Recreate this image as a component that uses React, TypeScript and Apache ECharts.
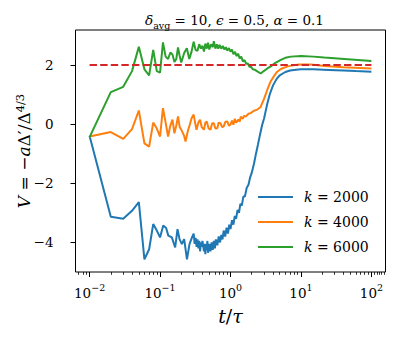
import React, { useEffect, useRef } from "react";
import * as echarts from "echarts";

// [t/τ, V] pairs
const k2000: [number, number][] = [
  [0.01, -0.4], [0.02, -3.13], [0.03, -3.2], [0.04, -2.93], [0.05, -2.64], [0.06, -4.57], [0.07, -4.23],
  [0.08, -3.38], [0.09, -3.6], [0.1, -3.83], [0.111, -3.43], [0.122, -3.51], [0.131, -3.77], [0.147, -3.83],
  [0.164, -4.17], [0.177, -3.55], [0.189, -3.89], [0.204, -4.06], [0.22, -3.89], [0.241, -4.57], [0.262, -4.06],
  [0.284, -3.83], [0.3, -3.7], [0.31, -4.05], [0.32, -3.85], [0.33, -4.15], [0.34, -3.9], [0.35, -4.2],
  [0.36, -3.95], [0.37, -4.3], [0.38, -4.0], [0.39, -4.15], [0.4, -3.95], [0.42, -4.3], [0.43, -4.05],
  [0.44, -4.4], [0.45, -4.05], [0.46, -4.25], [0.47, -3.95], [0.48, -4.35], [0.5, -4.05], [0.52, -4.3],
  [0.54, -4.0], [0.56, -4.25], [0.58, -3.95], [0.6, -4.2], [0.62, -3.9], [0.65, -4.1], [0.68, -3.8],
  [0.71, -4.0], [0.74, -3.75], [0.77, -3.9], [0.8, -3.6], [0.84, -3.8], [0.88, -3.5], [0.92, -3.7],
  [0.96, -3.4], [1.0, -3.55], [1.05, -3.25], [1.1, -3.4], [1.15, -3.1], [1.2, -3.2], [1.26, -2.9],
  [1.32, -3.0], [1.38, -2.7], [1.45, -2.75], [1.52, -2.45], [1.6, -2.45], [1.7, -2.15], [1.8, -2.05],
  [1.9, -1.8], [2.0, -1.65], [2.15, -1.35], [2.3, -1.0], [2.45, -0.7], [2.6, -0.4], [2.8, -0.05],
  [3.0, 0.2], [3.3, 0.65], [3.6, 1.0], [4.0, 1.3], [4.5, 1.52], [5.0, 1.65], [6.0, 1.76], [7.0, 1.81],
  [8.5, 1.84], [10, 1.85], [15, 1.85], [25, 1.83], [40, 1.81], [60, 1.79], [100, 1.77],
];

const k4000: [number, number][] = [
  [0.01, -0.42], [0.02, -0.27], [0.03, -0.5], [0.04, -0.17], [0.05, 0.46], [0.06, -0.65], [0.07, -0.76],
  [0.08, 0.05], [0.09, -0.15], [0.1, -0.42], [0.11, 0.54], [0.12, 0.05], [0.13, -0.42], [0.14, -0.05],
  [0.15, 0.15], [0.16, -0.31], [0.17, -0.05], [0.18, 0.26], [0.19, -0.1], [0.2, -0.19], [0.22, -0.4],
  [0.23, -0.59], [0.25, -0.2], [0.26, -0.08], [0.28, 0.2], [0.3, 0.32], [0.32, -0.05], [0.33, -0.19],
  [0.35, 0.05], [0.37, 0.15], [0.39, -0.1], [0.42, -0.19], [0.44, 0.05], [0.46, 0.09], [0.49, -0.15],
  [0.52, -0.19], [0.55, 0.03], [0.58, 0.03], [0.61, -0.15], [0.65, -0.14], [0.68, 0.05], [0.72, 0.03],
  [0.76, -0.1], [0.8, -0.08], [0.85, 0.08], [0.9, 0.09], [0.95, -0.05], [1.0, -0.02], [1.05, 0.12],
  [1.1, -0.02], [1.15, 0.18], [1.2, 0.05], [1.29, 0.15], [1.35, 0.08], [1.4, 0.25], [1.5, 0.18],
  [1.55, 0.28], [1.65, 0.25], [1.8, 0.35], [1.93, 0.37], [2.15, 0.45], [2.4, 0.49], [2.68, 0.58],
  [2.99, 0.85], [3.34, 1.17], [3.73, 1.45], [4.16, 1.63], [4.6, 1.77], [5.18, 1.86], [6.46, 1.95],
  [8.98, 2.01], [13.9, 2.01], [21.5, 1.96], [40, 1.92], [100, 1.88],
];

const k6000: [number, number][] = [
  [0.01, -0.44], [0.02, 1.08], [0.03, 1.26], [0.04, 1.79], [0.05, 2.61], [0.06, 1.85], [0.07, 1.65],
  [0.08, 2.51], [0.09, 1.79], [0.1, 1.74], [0.11, 2.76], [0.12, 2.28], [0.13, 2.2], [0.14, 2.42],
  [0.15, 2.35], [0.16, 2.1], [0.17, 2.2], [0.18, 2.59], [0.19, 2.3], [0.2, 2.08], [0.22, 2.4],
  [0.24, 2.56], [0.26, 2.2], [0.28, 2.45], [0.3, 2.78], [0.32, 2.5], [0.34, 2.48], [0.36, 2.7],
  [0.38, 2.55], [0.4, 2.65], [0.42, 2.45], [0.44, 2.72], [0.46, 2.55], [0.48, 2.75], [0.5, 2.52],
  [0.53, 2.7], [0.56, 2.6], [0.58, 2.8], [0.61, 2.55], [0.64, 2.7], [0.67, 2.55], [0.7, 2.68],
  [0.74, 2.55], [0.78, 2.64], [0.82, 2.52], [0.86, 2.6], [0.9, 2.48], [0.95, 2.57], [1.0, 2.45],
  [1.05, 2.52], [1.1, 2.36], [1.16, 2.44], [1.22, 2.3], [1.28, 2.38], [1.35, 2.22], [1.42, 2.28],
  [1.5, 2.12], [1.58, 2.16], [1.67, 2.04], [1.76, 2.05], [1.86, 1.94], [1.96, 1.93], [2.08, 1.85],
  [2.2, 1.84], [2.4, 1.78], [2.68, 1.71], [3.0, 1.8], [3.34, 1.88], [3.73, 1.95], [4.16, 2.04],
  [5.18, 2.17], [6.0, 2.24], [7.2, 2.28], [10, 2.3], [15, 2.28], [21.5, 2.25], [46, 2.19], [100, 2.13],
];

const reference: [number, number][] = [[0.01, 2], [100, 2]];

const seriesNames = ["k = 2000", "k = 4000", "k = 6000"];
const seriesColors = ["#1f77b4", "#ff7f0e", "#2ca02c"];
const refColor = "#d62728";

const xMinorTicks = [
  0.007, 0.008, 0.009,
  0.02, 0.03, 0.04, 0.05, 0.06, 0.07, 0.08, 0.09,
  0.2, 0.3, 0.4, 0.5, 0.6, 0.7, 0.8, 0.9,
  2, 3, 4, 5, 6, 7, 8, 9,
  20, 30, 40, 50, 60, 70, 80, 90,
  110, 120, 130, 140, 150,
];
const yTicks = [-4, -2, 0, 2];

const xMin = Math.pow(10, -2.2);
const xMax = Math.pow(10, 2.2);
const yMin = -5.0;
const yMax = 3.18;

const FONT = "DejaVu Serif";
const GRID = { left: 75.5, right: 10.5, top: 30, bottom: 66, containLabel: false, outerBoundsMode: "none" };

export default function App() {
  const ref = useRef<HTMLDivElement>(null);
  useEffect(() => {
    if (!ref.current) return;
    const chart = echarts.init(ref.current, undefined, { renderer: "svg" });
    const supStyle = { fontFamily: FONT, fontSize: 9.5, lineHeight: 10, verticalAlign: "top", color: "#000" };
    const option: any = {
      animation: false,
      backgroundColor: "#fff",
      textStyle: { fontFamily: FONT },
      title: {
        text: "{i|δ}{sub|avg} = 10, {i|ϵ} = 0.5, {i|α} = 0.1",
        left: 229.5,
        top: 5,
        textAlign: "center",
        textStyle: {
          fontFamily: FONT,
          fontSize: 13.5,
          fontWeight: "normal",
          color: "#000",
          lineHeight: 20,
          rich: {
            i: { fontFamily: FONT, fontSize: 13.5, fontStyle: "italic", lineHeight: 20, color: "#000" },
            sub: { fontFamily: FONT, fontSize: 9.5, lineHeight: 10, verticalAlign: "bottom", color: "#000" },
          },
        },
      },
      grid: [
        { ...GRID, show: true, borderColor: "#000", borderWidth: 1, backgroundColor: "transparent" },
        { ...GRID, show: false },
      ],
      legend: {
        data: seriesNames,
        orient: "vertical",
        left: 258,
        top: 189,
        padding: 0,
        itemWidth: 35,
        itemHeight: 2,
        itemGap: 9,
        icon: "rect",
        formatter: (name: string) => "{i|k}" + name.slice(1),
        textStyle: {
          fontFamily: FONT,
          fontSize: 14,
          lineHeight: 16,
          color: "#000",
          rich: {
            i: { fontFamily: FONT, fontSize: 14, fontStyle: "italic", lineHeight: 16, padding: [0, 0, 0, 6], color: "#000" },
          },
        },
      },
      xAxis: [
        {
          type: "log",
          logBase: 10,
          gridIndex: 0,
          position: "bottom",
          min: xMin,
          max: xMax,
          axisLine: { show: false, onZero: false },
          splitLine: { show: false },
          axisTick: { show: true, length: 5, lineStyle: { color: "#000", width: 1 } },
          axisLabel: {
            margin: 10,
            formatter: (v: number) => {
              const e = Math.round(Math.log10(v));
              return "10{s|" + (e < 0 ? "\u2212" : "") + Math.abs(e) + "}";
            },
            fontFamily: FONT,
            fontSize: 13.5,
            lineHeight: 22,
            color: "#000",
            rich: { s: supStyle },
          },
          name: "{i|t}/{i|τ}",
          nameLocation: "middle",
          nameGap: 34,
          nameMoveOverlap: false,
          nameTextStyle: {
            fontFamily: FONT,
            fontSize: 19,
            color: "#000",
            rich: { i: { fontFamily: FONT, fontSize: 19, fontStyle: "italic", color: "#000" } },
          },
        },
        {
          // minor ticks only, placed on the same log10 span as the main axis
          type: "value",
          gridIndex: 1,
          min: -2.2,
          max: 2.2,
          position: "bottom",
          axisLine: { show: false, onZero: false },
          splitLine: { show: false },
          axisLabel: { show: false },
          axisTick: {
            show: true,
            length: 2.8,
            customValues: xMinorTicks.map((t) => Math.log10(t)),
            lineStyle: { color: "#000", width: 0.8 },
          },
        },
      ],
      yAxis: [
        {
          type: "value",
          gridIndex: 0,
          min: yMin,
          max: yMax,
          axisLine: { show: false },
          splitLine: { show: false },
          axisTick: { show: true, length: 5, customValues: yTicks, lineStyle: { color: "#000", width: 1 } },
          axisLabel: {
            customValues: yTicks,
            margin: 22,
            formatter: (v: number) => (v < 0 ? "\u2212" + Math.abs(v) : String(v)),
            fontFamily: FONT,
            fontSize: 13.5,
            color: "#000",
          },
          name: "{i|V} = \u2212{i|a}Δ\u2032/Δ{s|4/3}",
          nameLocation: "middle",
          nameRotate: 90,
          nameGap: 42,
          nameMoveOverlap: false,
          nameTextStyle: {
            fontFamily: FONT,
            fontSize: 17,
            color: "#000",
            lineHeight: 20,
            rich: {
              i: { fontFamily: FONT, fontSize: 17, fontStyle: "italic", lineHeight: 20, color: "#000" },
              s: { fontFamily: FONT, fontSize: 11.5, lineHeight: 11, verticalAlign: "top", color: "#000" },
            },
          },
        },
        {
          type: "value",
          gridIndex: 1,
          min: 1,
          max: 2,
          show: false,
        },
      ],
      series: [
        ...[k2000, k4000, k6000].map((d, i) => ({
          name: seriesNames[i],
          type: "line",
          data: d,
          xAxisIndex: 0,
          yAxisIndex: 0,
          symbol: "none",
          color: seriesColors[i],
          lineStyle: { color: seriesColors[i], width: 2 },
        })),
        {
          name: "reference",
          type: "line",
          data: reference,
          xAxisIndex: 0,
          yAxisIndex: 0,
          symbol: "none",
          color: refColor,
          lineStyle: { color: refColor, width: 2, type: [7.4, 3.2] },
        },
      ],
    };
    chart.setOption(option);
    return () => chart.dispose();
  }, []);
  return <div ref={ref} style={{ width: 396, height: 338, position: "absolute", left: 0, top: 0 }} />;
}
